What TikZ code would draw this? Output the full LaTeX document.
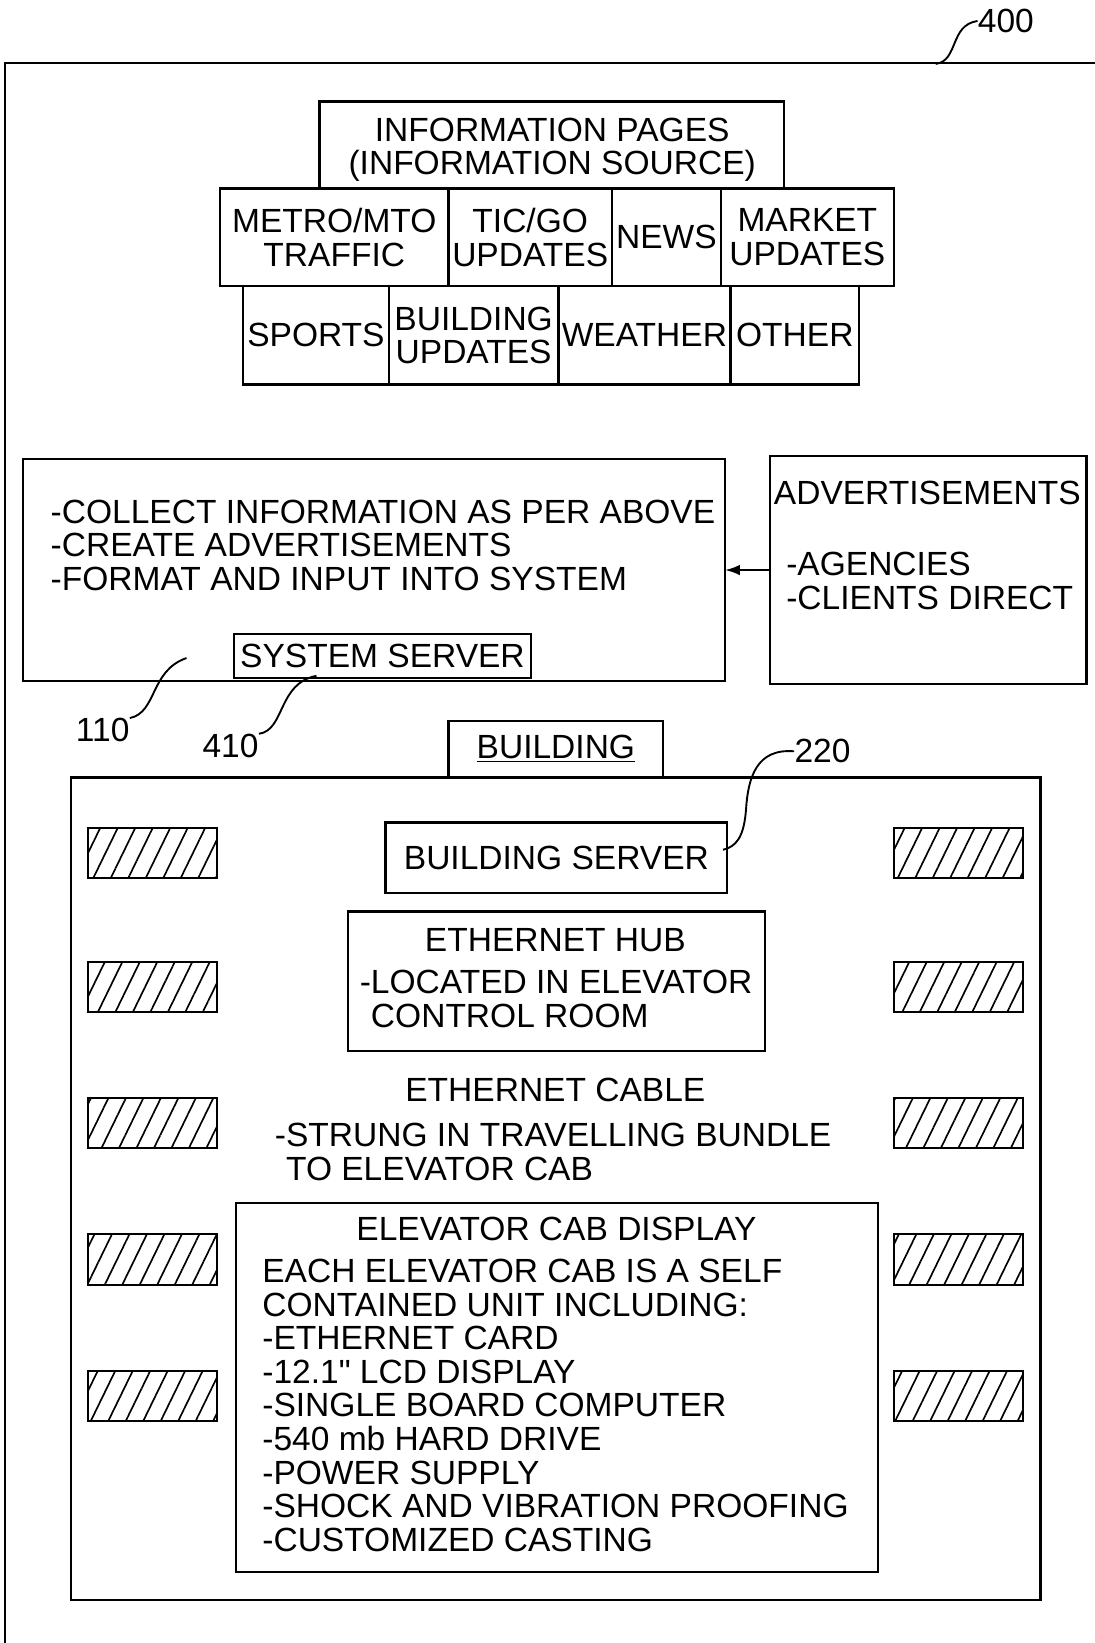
\documentclass[tikz,border=0pt]{standalone}
\usepackage{fontspec}
\setmainfont{Liberation Sans}
\newfontfamily\qfont{Liberation Sans}
\usetikzlibrary{arrows.meta,patterns.meta}
\begin{document}
\begin{tikzpicture}[x=0.5pt,y=-0.5pt,
  box/.style={draw, line width=1.1pt, inner sep=0pt, outer sep=0pt, anchor=north west,
    font=\fontsize{16}{16}\selectfont, align=center},
  txt/.style={inner sep=0pt, font=\fontsize{16}{16}\selectfont, align=left},
  ctxt/.style={inner sep=0pt, font=\fontsize{16}{16}\selectfont, align=center},
  hatchbox/.style={draw, line width=1pt, anchor=north west, inner sep=0pt, outer sep=0pt,
    minimum width=61.5pt, minimum height=24pt,
    pattern={Lines[angle=64,distance=7.5pt,line width=0.8pt]}},
  lead/.style={line width=0.9pt}]
\useasboundingbox (0,0) rectangle (1045,1568);

% outer frame
\coordinate (fbl) at (5,1568);
\coordinate (ftl) at (5,60);
\coordinate (ftr) at (1045,60);
\draw[line width=1.1pt] (fbl) -- (ftl) -- (ftr);
\node[ctxt] (n400) at (960,20) {400};
\coordinate (e400) at (893,61);
\draw[lead] (e400) .. controls (915,58) and (906,24) .. (n400.west);

% information pages
\node[box, minimum width=221.5pt, minimum height=41.5pt] (info) at (305,97) {};
\node[ctxt] (infot) at (527,143) {INFORMATION PAGES\\(INFORMATION SOURCE)};

\node[box, minimum width=109pt, minimum height=46.5pt] (c1) at (210,180) {METRO/MTO\\TRAFFIC};
\node[box, minimum width=78pt, minimum height=46.5pt] (c2) at (428,180) {TIC/GO\\UPDATES};
\node[box, minimum width=52pt, minimum height=46.5pt] (c3) at (584,180) {NEWS};
\node[box, minimum width=82.5pt, minimum height=46.5pt] (c4) at (688,180) {MARKET\\UPDATES};

\node[box, minimum width=69.5pt, minimum height=47pt] (d1) at (232,273) {SPORTS};
\node[box, minimum width=81pt, minimum height=47pt] (d2) at (371,273) {BUILDING\\UPDATES};
\node[box, minimum width=82pt, minimum height=47pt] (d3) at (533,273) {WEATHER};
\node[box, minimum width=61.5pt, minimum height=47pt] (d4) at (697,273) {OTHER};

% system
\node[box, minimum width=335pt, minimum height=106pt] (sys) at (22,438) {};
\node[txt, anchor=north west] (syst) at (48,476.5) {-COLLECT INFORMATION AS PER ABOVE\\-CREATE ADVERTISEMENTS\\-FORMAT AND INPUT INTO SYSTEM};
\node[box, minimum width=142pt, minimum height=21pt] (srv) at (223,605) {SYSTEM SERVER};

\node[box, minimum width=151pt, minimum height=109pt] (adv) at (735,435) {};
\node[ctxt] (advt) at (885,470) {ADVERTISEMENTS};
\node[txt, anchor=north west] (advl) at (750,526.5) {-AGENCIES\\-CLIENTS DIRECT};
\draw[line width=1pt, -{Latex[length=7pt,width=5pt]}] (adv.west) -- (sys.east);

\node[ctxt] (n110) at (98,697) {110};
\coordinate (e110) at (178,628);
\draw[lead] (n110.north east) .. controls (150,680) and (143,640) .. (e110);
\node[ctxt] (n410) at (220,712) {410};
\coordinate (e410) at (302,645);
\draw[lead] (n410.north east) .. controls (272,697) and (265,652) .. (e410);

% building
\node[box, minimum width=102.5pt, minimum height=27pt] (bl) at (428,688) {\underline{BUILDING}};
\node[box, minimum width=462.5pt, minimum height=392.5pt] (bld) at (68,742) {};

\node[ctxt] (n220) at (785,717) {220};
\coordinate (e220) at (690,811);
\draw[lead] (n220.west) .. controls (722,714) and (714,742) .. (712,772) .. controls (710,800) and (702,808) .. (e220);

\foreach \i/\y in {1/790,2/918,3/1048,4/1178,5/1308}{
  \node[hatchbox] (hl\i) at (84,\y) {};
  \node[hatchbox] (hr\i) at (853,\y) {};
}

\node[box, minimum width=163pt, minimum height=33.5pt] (bsrv) at (368,785) {BUILDING SERVER};

\node[box, minimum width=199pt, minimum height=66.5pt] (hub) at (332,870) {};
\node[ctxt] (hubt) at (530,897) {ETHERNET HUB};
\node[txt, anchor=north west] (hubl) at (343,925.5) {-LOCATED IN ELEVATOR\\\phantom{-}CONTROL ROOM};

\node[ctxt] (cabt) at (530,1040) {ETHERNET CABLE};
\node[txt, anchor=north west] (cabl) at (262,1071.5) {-STRUNG IN TRAVELLING BUNDLE\\\phantom{-}TO ELEVATOR CAB};

\node[box, minimum width=306.5pt, minimum height=176pt] (elev) at (225,1148) {};
\node[ctxt] (elevt) at (531,1173) {ELEVATOR CAB DISPLAY};
\node[txt, anchor=north west] (elevl) at (250,1201.5) {EACH ELEVATOR CAB IS A SELF\\CONTAINED UNIT INCLUDING:\\-ETHERNET CARD\\-12.1{\qfont"} LCD DISPLAY\\-SINGLE BOARD COMPUTER\\-540 mb HARD DRIVE\\-POWER SUPPLY\\-SHOCK AND VIBRATION PROOFING\\-CUSTOMIZED CASTING};
\end{tikzpicture}
\end{document}
